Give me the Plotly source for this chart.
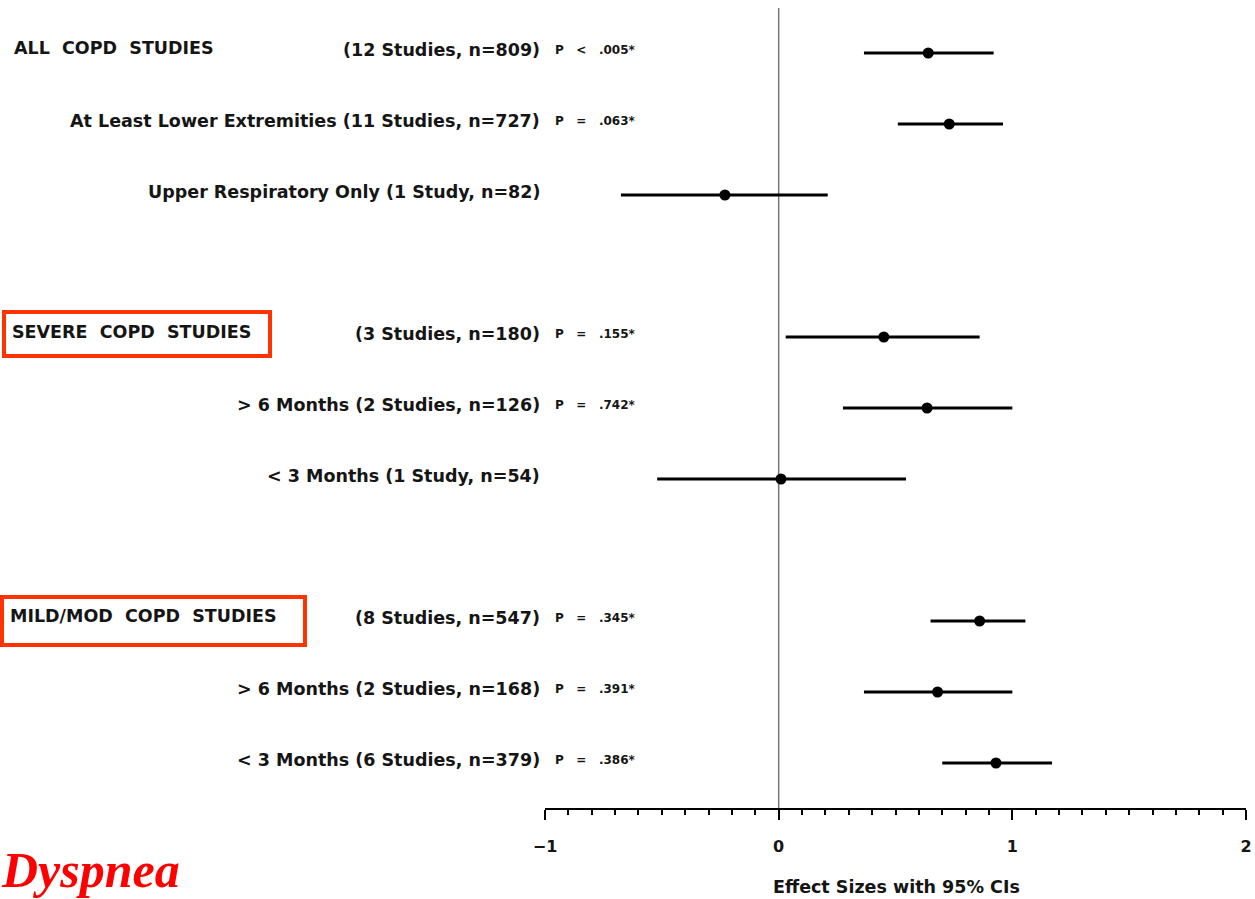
import plotly.graph_objects as go

# Forest plot: effect sizes for dyspnea with 95% confidence intervals
group_titles = ["ALL COPD STUDIES", "SEVERE COPD STUDIES", "MILD/MOD COPD STUDIES"]
row_labels = [
    "(12 Studies, n=809)",
    "At Least Lower Extremities (11 Studies, n=727)",
    "Upper Respiratory Only (1 Study, n=82)",
    "(3 Studies, n=180)",
    "> 6 Months (2 Studies, n=126)",
    "< 3 Months (1 Study, n=54)",
    "(8 Studies, n=547)",
    "> 6 Months (2 Studies, n=168)",
    "< 3 Months (6 Studies, n=379)",
]
p_values = ["P < .005*", "P = .063*", "", "P = .155*", "P = .742*", "",
            "P = .345*", "P = .391*", "P = .386*"]
effect = [0.64, 0.73, -0.23, 0.45, 0.635, 0.01, 0.86, 0.68, 0.93]
ci_low = [0.365, 0.51, -0.675, 0.03, 0.275, -0.52, 0.65, 0.365, 0.70]
ci_high = [0.92, 0.96, 0.21, 0.86, 1.00, 0.545, 1.056, 1.00, 1.17]
x_ticks = [-1, 0, 1, 2]

W, H = 1255, 899
ROWS_PER_GROUP = 3
NB = "\u00a0"

# rows sit in groups of three with one empty row between groups
row_y = [i + i // ROWS_PER_GROUP for i in range(len(row_labels))]


def px(x):
    return x / W


def py(y):
    return 1 - y / H


def esc(s):
    return s.replace("<", "&lt;").replace(">", "&gt;")


def spaced(s, n):
    return s.replace(" ", NB * n)


ink = "#151515"
label_font = dict(family="DejaVu Sans", size=17.5, color=ink)
p_font = dict(family="DejaVu Sans", size=12, color=ink)

fig = go.Figure()
fig.add_trace(go.Scatter(
    x=effect,
    y=row_y,
    mode="markers",
    marker=dict(color="black", size=11),
    error_x=dict(
        type="data",
        symmetric=False,
        array=[h - e for h, e in zip(ci_high, effect)],
        arrayminus=[e - l for e, l in zip(effect, ci_low)],
        color="black",
        thickness=3,
        width=0,
    ),
    showlegend=False,
    hoverinfo="skip",
))

annotations = []
for y, lab, p in zip(row_y, row_labels, p_values):
    annotations.append(dict(
        x=px(542), xref="paper", xanchor="right",
        y=y, yref="y", yanchor="middle", yshift=3,
        text="<b>" + esc(lab) + "</b>",
        showarrow=False, font=label_font,
    ))
    if p:
        annotations.append(dict(
            x=px(553), xref="paper", xanchor="left",
            y=y, yref="y", yanchor="middle", yshift=3,
            text="<b>" + esc(spaced(p, 3)) + "</b>",
            showarrow=False, font=p_font,
        ))

heading_x = [12, 10, 8]
for g, title in enumerate(group_titles):
    annotations.append(dict(
        x=px(heading_x[g]), xref="paper", xanchor="left",
        y=row_y[g * ROWS_PER_GROUP], yref="y", yanchor="middle", yshift=5,
        text="<b>" + spaced(title, 2) + "</b>",
        showarrow=False, font=label_font,
    ))

annotations.append(dict(
    x=px(896), xref="paper", xanchor="center",
    y=py(887), yref="paper", yanchor="middle",
    text="<b>Effect Sizes with 95% CIs</b>",
    showarrow=False, font=dict(family="DejaVu Sans", size=17.5, color=ink),
))
annotations.append(dict(
    x=0, xref="paper", xanchor="left",
    y=0, yref="paper", yanchor="bottom",
    text="<b><i>Dyspnea</i></b>",
    showarrow=False, borderpad=0,
    font=dict(family="Liberation Serif", size=50, color="#ff0000"),
))

red = "#ff3300"
shapes = [
    # zero reference line
    dict(type="line", xref="x", x0=0, x1=0, yref="y domain", y0=0, y1=1,
         line=dict(color="#777", width=1.5), layer="below"),
    # boxes around the subgroup headings
    dict(type="rect", xref="paper", yref="paper",
         x0=px(4), x1=px(270), y0=py(312), y1=py(356),
         line=dict(color=red, width=4)),
    dict(type="rect", xref="paper", yref="paper",
         x0=px(2), x1=px(305), y0=py(597), y1=py(645),
         line=dict(color=red, width=4)),
]

top_px, axis_px = 8, 808
row_px0, row_step = 53, 71
fig.update_layout(
    width=W, height=H,
    margin=dict(l=0, r=0, t=0, b=0, autoexpand=False),
    paper_bgcolor="white", plot_bgcolor="white",
    annotations=annotations,
    shapes=shapes,
    xaxis=dict(
        domain=[px(545), px(1246)],
        range=[-1, 2],
        tickvals=x_ticks,
        ticktext=["\u22121", "0", "1", "2"],
        ticks="outside", ticklen=10, tickwidth=2, tickcolor="black",
        tickfont=dict(family="DejaVu Sans", size=16, color=ink, weight="bold"),
        ticklabelstandoff=13,
        minor=dict(dtick=0.1, ticks="outside", ticklen=5, tickwidth=1.5,
                   tickcolor="black", showgrid=False),
        showline=True, linecolor="black", linewidth=2,
        showgrid=False, zeroline=False, fixedrange=True, automargin=False,
    ),
    yaxis=dict(
        domain=[py(axis_px), py(top_px)],
        range=[(axis_px - row_px0) / row_step, -(row_px0 - top_px) / row_step],
        visible=False, showgrid=False, zeroline=False, fixedrange=True,
        automargin=False,
    ),
)

fig.write_html("out.html")
